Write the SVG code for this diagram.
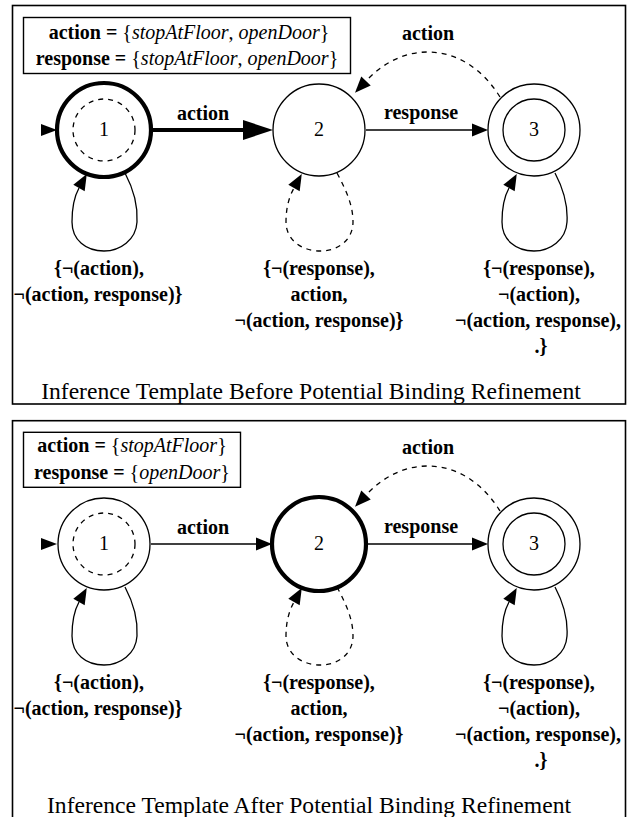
<svg xmlns="http://www.w3.org/2000/svg" width="634" height="817" viewBox="0 0 634 817">
<style>
.frame{fill:none;stroke:#000;stroke-width:1.6}
.legend{fill:#fff;stroke:#000;stroke-width:1.4}
.node{fill:#fff;stroke:#000;stroke-width:1.3}
.thick{stroke-width:4.2}
.inner{fill:none;stroke:#000;stroke-width:1.3}
.dash{stroke-dasharray:5 5}
.edge{fill:none;stroke:#000;stroke-width:1.3}
.edgeT{fill:none;stroke:#000;stroke-width:4}
text{font-family:"Liberation Serif","Times New Roman",serif;fill:#000}
.lbl{font-size:20px;font-weight:bold;text-anchor:middle}
.num{font-size:20px;text-anchor:middle}
.cap{font-size:23.6px;text-anchor:middle}
.leg{font-size:20px;text-anchor:middle}
.b{font-weight:bold}
.i{font-style:italic}
</style>
<defs>
<marker id="arr" markerUnits="userSpaceOnUse" markerWidth="20" markerHeight="16" refX="0" refY="6.5" orient="auto" overflow="visible">
<path d="M0,0 L16,6.5 L0,13 z" fill="#000"/>
</marker>
<marker id="arrT" markerUnits="userSpaceOnUse" markerWidth="32" markerHeight="22" refX="0" refY="10" orient="auto" overflow="visible">
<path d="M0,0 L30,10 L0,20 z" fill="#000"/>
</marker>
</defs>

<!-- ===== Top panel ===== -->
<g id="panel-top">
<rect class="frame" x="12.5" y="5.5" width="613" height="398.5"/>
<g id="legend-top">
<rect class="legend" x="23.5" y="17.5" width="327" height="56"/>
<text class="leg" x="189" y="38.5"><tspan class="b">action =</tspan> {<tspan class="i">stopAtFloor</tspan>, <tspan class="i">openDoor</tspan>}</text>
<text class="leg" x="187" y="65"><tspan class="b">response =</tspan> {<tspan class="i">stopAtFloor</tspan>, <tspan class="i">openDoor</tspan>}</text>
</g>
<g id="connectors-top">
<polygon points="41,124 57,130 41,136" fill="#000"/>
<path class="edgeT" d="M152,130 L243,130" marker-end="url(#arrT)"/>
<path class="edge" d="M366,130 L472,130" marker-end="url(#arr)"/>
<path class="edge dash" d="M500,97 C482,68 456,52 428,52 C404,52 383,63 366,81" marker-end="url(#arr)"/>
<path class="edge" d="M125,173 C134,190 138,205 137,222 C136,240 120,251 104,251 C86,251 72,240 72,222 C72,208 74,197 79,188" marker-end="url(#arr)"/>
<path class="edge dash" d="M337,173 C346,190 353,205 353,222 C353,240 338,251 320,251 C302,251 286,240 286,222 C286,208 289,197 294,188" marker-end="url(#arr)"/>
<path class="edge" d="M555,173 C564,190 568,205 567,222 C566,240 550,251 534,251 C516,251 502,240 502,222 C502,208 504,197 509,188" marker-end="url(#arr)"/>
<text class="lbl" x="203" y="120">action</text>
<text class="lbl" x="421" y="119">response</text>
<text class="lbl" x="428" y="40">action</text>
<text class="lbl" x="99" y="275">{¬(action),</text>
<text class="lbl" x="98" y="301">¬(action, response)}</text>
<text class="lbl" x="319" y="275">{¬(response),</text>
<text class="lbl" x="319" y="301">action,</text>
<text class="lbl" x="319" y="327">¬(action, response)}</text>
<text class="lbl" x="539" y="275">{¬(response),</text>
<text class="lbl" x="539" y="301">¬(action),</text>
<text class="lbl" x="538" y="327">¬(action, response),</text>
<text class="lbl" x="541" y="353">.}</text>
</g>
<g id="t-node1">
<circle class="node thick" cx="104" cy="130" r="47"/>
<circle class="inner dash" cx="104" cy="130" r="31"/>
<text class="num" x="104" y="136">1</text>
</g>
<g id="t-node2">
<circle class="node" cx="319" cy="130" r="46"/>
<text class="num" x="319" y="136">2</text>
</g>
<g id="t-node3">
<circle class="node" cx="534" cy="130" r="46"/>
<circle class="inner" cx="534" cy="130" r="31"/>
<text class="num" x="534" y="136">3</text>
</g>
<text class="cap" x="311" y="399">Inference Template Before Potential Binding Refinement</text>
</g>

<!-- ===== Bottom panel ===== -->
<g id="panel-bottom" transform="translate(0,414)">
<rect class="frame" x="12.5" y="6.7" width="613" height="420"/>
<g id="legend-bottom">
<rect class="legend" x="23.5" y="18.3" width="217" height="55"/>
<text class="leg" x="132" y="38"><tspan class="b">action =</tspan> {<tspan class="i">stopAtFloor</tspan>}</text>
<text class="leg" x="132" y="64.5"><tspan class="b">response =</tspan> {<tspan class="i">openDoor</tspan>}</text>
</g>
<g id="connectors-bottom">
<polygon points="41,124 57,130 41,136" fill="#000"/>
<path class="edge" d="M151,130 L256,130" marker-end="url(#arr)"/>
<path class="edge" d="M367,130 L472,130" marker-end="url(#arr)"/>
<path class="edge dash" d="M500,97 C482,68 456,52 428,52 C404,52 383,63 366,81" marker-end="url(#arr)"/>
<path class="edge" d="M125,173 C134,190 138,205 137,222 C136,240 120,251 104,251 C86,251 72,240 72,222 C72,208 74,197 79,188" marker-end="url(#arr)"/>
<path class="edge dash" d="M337,173 C346,190 353,205 353,222 C353,240 338,251 320,251 C302,251 286,240 286,222 C286,208 289,197 294,188" marker-end="url(#arr)"/>
<path class="edge" d="M555,173 C564,190 568,205 567,222 C566,240 550,251 534,251 C516,251 502,240 502,222 C502,208 504,197 509,188" marker-end="url(#arr)"/>
<text class="lbl" x="203" y="120">action</text>
<text class="lbl" x="421" y="119">response</text>
<text class="lbl" x="428" y="40">action</text>
<text class="lbl" x="99" y="275">{¬(action),</text>
<text class="lbl" x="98" y="301">¬(action, response)}</text>
<text class="lbl" x="319" y="275">{¬(response),</text>
<text class="lbl" x="319" y="301">action,</text>
<text class="lbl" x="319" y="327">¬(action, response)}</text>
<text class="lbl" x="539" y="275">{¬(response),</text>
<text class="lbl" x="539" y="301">¬(action),</text>
<text class="lbl" x="538" y="327">¬(action, response),</text>
<text class="lbl" x="541" y="353">.}</text>
</g>
<g id="b-node1">
<circle class="node" cx="104" cy="130" r="46"/>
<circle class="inner dash" cx="104" cy="130" r="31"/>
<text class="num" x="104" y="136">1</text>
</g>
<g id="b-node2">
<circle class="node thick" cx="319" cy="130" r="47"/>
<text class="num" x="319" y="136">2</text>
</g>
<g id="b-node3">
<circle class="node" cx="534" cy="130" r="46"/>
<circle class="inner" cx="534" cy="130" r="31"/>
<text class="num" x="534" y="136">3</text>
</g>
<text class="cap" x="309" y="399">Inference Template After Potential Binding Refinement</text>
</g>
</svg>
